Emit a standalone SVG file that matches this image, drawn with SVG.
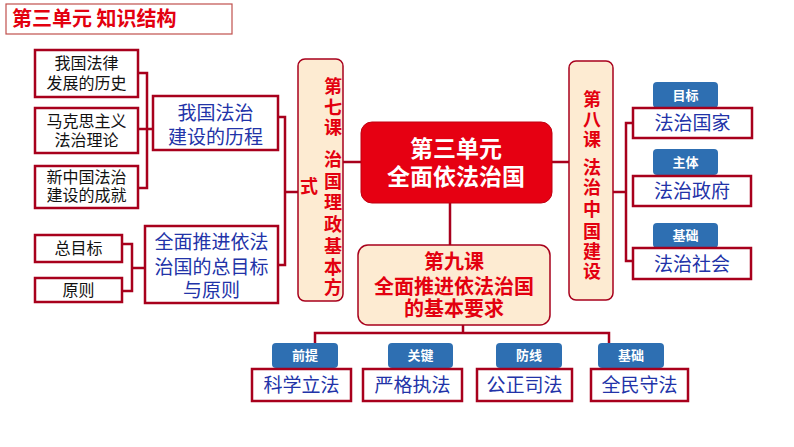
<svg xmlns="http://www.w3.org/2000/svg" width="794" height="447" viewBox="0 0 794 447">
<defs>
<style>
text{font-family:"Noto Sans CJK SC","Noto Sans",sans-serif;}
.box{fill:#ffffff;stroke:#a8001c;stroke-width:2.5;}
.peach{fill:#fdebd2;stroke:#a8001c;stroke-width:1.5;}
.lbl{fill:#2e6fb2;}
.con{fill:none;stroke:#a8001c;stroke-width:2.5;}
.blk{fill:#111111;font-size:16px;text-anchor:middle;}
.bluen{fill:#2233a8;font-size:19px;text-anchor:middle;}
.lt{fill:#ffffff;font-size:13px;font-weight:bold;text-anchor:middle;}
.red{fill:#e3000f;font-size:20px;font-weight:bold;text-anchor:middle;}
.vred{fill:#e3000f;font-size:18px;font-weight:bold;text-anchor:middle;}
</style>
<filter id="sh" x="-10%" y="-200%" width="120%" height="500%"><feGaussianBlur stdDeviation="3"/></filter>
</defs>
<rect width="794" height="447" fill="#ffffff"/>

<g id="title">
<rect x="6" y="4" width="226" height="30" fill="#ffffff" stroke="#c0504d" stroke-width="1.2"/>
<text x="12" y="26" fill="#e3000f" font-size="20" font-weight="bold">第三单元 知识结构</text>
</g>

<g id="connectors">
<line x1="315" y1="337" x2="609" y2="337" stroke="#888" stroke-width="5" opacity="0.6" filter="url(#sh)"/>
<path class="con" d="M138,73 H147 V188 H138 M138,129 H153"/>
<path class="con" d="M122,244 H132 V291 H122 M132,268 H145"/>
<path class="con" d="M278,117 H285 V265 H278 M285,192 H298"/>
<path class="con" d="M343,162 H361 M552,162 H569 M450,203 V245"/>
<path class="con" d="M613,192 H626 M633,123 H626 V261 H633"/>
<path class="con" d="M463,325 V333 M315,343 V333 H609 V343"/>
</g>

<g id="n1"><rect class="box" x="35" y="50" width="103" height="47"/><text class="blk" x="86.5" y="69">我国法律</text><text class="blk" x="86.5" y="89">发展的历史</text></g>
<g id="n2"><rect class="box" x="35" y="108" width="103" height="45"/><text class="blk" x="86.5" y="127">马克思主义</text><text class="blk" x="86.5" y="146">法治理论</text></g>
<g id="n3"><rect class="box" x="35" y="166" width="103" height="42"/><text class="blk" x="86.5" y="183">新中国法治</text><text class="blk" x="86.5" y="201">建设的成就</text></g>
<g id="n4"><rect class="box" x="35" y="235" width="87" height="27"/><text class="blk" x="78.5" y="254">总目标</text></g>
<g id="n5"><rect class="box" x="35" y="278" width="87" height="24"/><text class="blk" x="78.5" y="296">原则</text></g>

<g id="n6"><rect class="box" x="153" y="96" width="125" height="54"/><text class="bluen" x="215.5" y="120">我国法治</text><text class="bluen" x="215.5" y="144">建设的历程</text></g>
<g id="n7"><rect class="box" x="145" y="226" width="133" height="77"/><text class="bluen" x="211.5" y="249">全面推进依法</text><text class="bluen" x="211.5" y="274">治国的总目标</text><text class="bluen" x="211.5" y="297">与原则</text></g>

<g id="n8"><rect class="peach" x="298" y="59" width="45" height="242" rx="7"/>
<text class="vred"><tspan x="333" y="93">第</tspan><tspan x="333" y="114">七</tspan><tspan x="333" y="134">课</tspan><tspan x="333" y="166">治</tspan><tspan x="333" y="188">国</tspan><tspan x="333" y="209">理</tspan><tspan x="333" y="231">政</tspan><tspan x="333" y="253">基</tspan><tspan x="333" y="274">本</tspan><tspan x="333" y="294">方</tspan><tspan x="309" y="193">式</tspan></text></g>

<g id="n9"><rect x="361" y="122" width="191" height="81" rx="11" fill="#e60012" stroke="#c00010" stroke-width="1"/>
<text x="456" y="157" fill="#ffffff" font-size="23" font-weight="bold" text-anchor="middle">第三单元</text>
<text x="456" y="185" fill="#ffffff" font-size="23" font-weight="bold" text-anchor="middle">全面依法治国</text></g>

<g id="n10"><rect class="peach" x="358" y="245" width="192" height="80" rx="10"/>
<text class="red" x="454" y="269">第九课</text><text class="red" x="454" y="294">全面推进依法治国</text><text class="red" x="454" y="316">的基本要求</text></g>

<g id="n11"><rect class="peach" x="569" y="61" width="44" height="239" rx="7"/>
<text class="vred"><tspan x="592" y="106">第</tspan><tspan x="592" y="126">八</tspan><tspan x="592" y="146">课</tspan><tspan x="592" y="174">法</tspan><tspan x="592" y="194">治</tspan><tspan x="592" y="216">中</tspan><tspan x="592" y="238">国</tspan><tspan x="592" y="258">建</tspan><tspan x="592" y="278">设</tspan></text></g>

<g id="n12"><rect class="lbl" x="653" y="82" width="65" height="26" rx="4"/><text class="lt" x="685.5" y="100">目标</text>
<rect class="box" x="633" y="108" width="119" height="30"/><text class="bluen" x="692.5" y="130">法治国家</text></g>
<g id="n13"><rect class="lbl" x="653" y="149" width="65" height="26" rx="4"/><text class="lt" x="685.5" y="167">主体</text>
<rect class="box" x="633" y="176" width="118" height="30"/><text class="bluen" x="692" y="198">法治政府</text></g>
<g id="n14"><rect class="lbl" x="653" y="223" width="65" height="25" rx="4"/><text class="lt" x="685.5" y="240">基础</text>
<rect class="box" x="633" y="248" width="118" height="31"/><text class="bluen" x="692" y="271">法治社会</text></g>

<g id="n15"><rect class="lbl" x="272" y="343" width="66" height="25" rx="4"/><text class="lt" x="305" y="360">前提</text>
<rect class="box" x="252" y="369" width="99" height="32"/><text class="bluen" x="301.5" y="392" font-size="20">科学立法</text></g>
<g id="n16"><rect class="lbl" x="388" y="343" width="65" height="25" rx="4"/><text class="lt" x="420.5" y="360">关键</text>
<rect class="box" x="363" y="369" width="99" height="32"/><text class="bluen" x="412.5" y="392" font-size="20">严格执法</text></g>
<g id="n17"><rect class="lbl" x="496" y="343" width="66" height="25" rx="4"/><text class="lt" x="529" y="360">防线</text>
<rect class="box" x="477" y="369" width="95" height="32"/><text class="bluen" x="524.5" y="392" font-size="20">公正司法</text></g>
<g id="n18"><rect class="lbl" x="598" y="343" width="66" height="25" rx="4"/><text class="lt" x="631" y="360">基础</text>
<rect class="box" x="591" y="369" width="97" height="32"/><text class="bluen" x="639.5" y="392" font-size="20">全民守法</text></g>
</svg>
